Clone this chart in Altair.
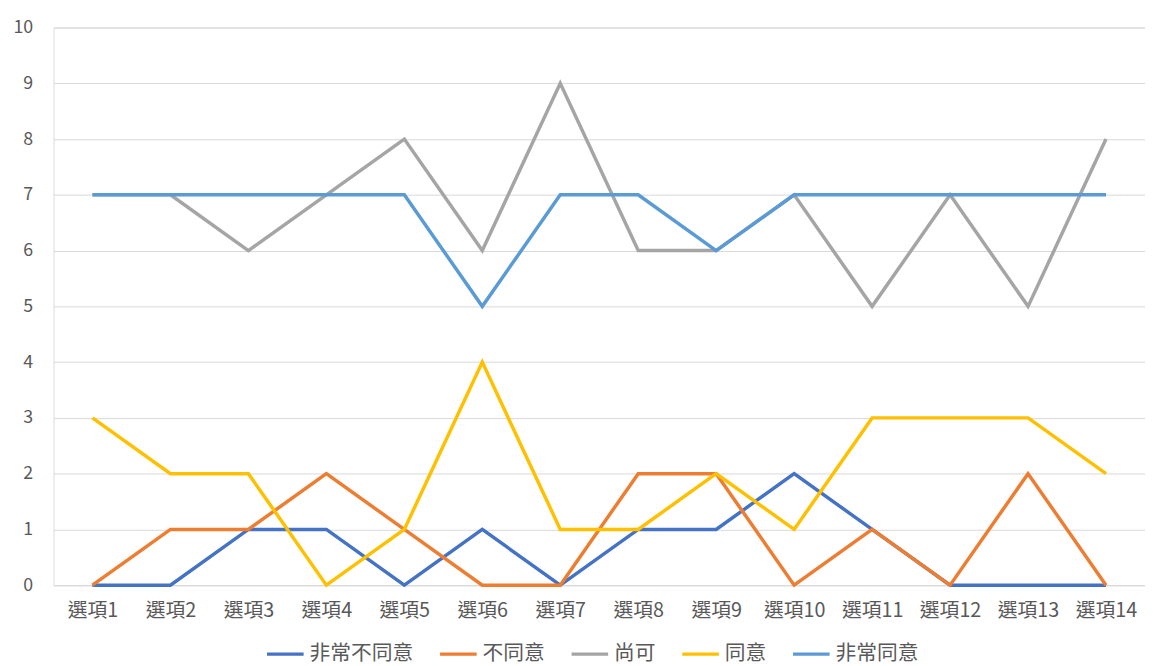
import altair as alt
import pandas as pd

categories = [f"選項{i}" for i in range(1, 15)]
series_names = ["非常不同意", "不同意", "尚可", "同意", "非常同意"]
colors = ["#4472C4", "#ED7D31", "#A5A5A5", "#FFC000", "#5B9BD5"]

s_strong_disagree = [0, 0, 1, 1, 0, 1, 0, 1, 1, 2, 1, 0, 0, 0]
s_disagree = [0, 1, 1, 2, 1, 0, 0, 2, 2, 0, 1, 0, 2, 0]
s_neutral = [7, 7, 6, 7, 8, 6, 9, 6, 6, 7, 5, 7, 5, 8]
s_agree = [3, 2, 2, 0, 1, 4, 1, 1, 2, 1, 3, 3, 3, 2]
s_strong_agree = [7, 7, 7, 7, 7, 5, 7, 7, 6, 7, 7, 7, 7, 7]

all_series = [s_strong_disagree, s_disagree, s_neutral, s_agree, s_strong_agree]
rows = []
for si, (name, vals) in enumerate(zip(series_names, all_series)):
    for c, v in zip(categories, vals):
        rows.append({"cat": c, "series": name, "value": v, "ord": si})
df = pd.DataFrame(rows)

font = "Noto Sans CJK TC"

chart = alt.Chart(df).mark_line(strokeWidth=3.5, strokeJoin="miter").encode(
    x=alt.X("cat:N", sort=categories, title=None,
            scale=alt.Scale(paddingInner=0, paddingOuter=0.5),
            axis=alt.Axis(labelAngle=0, ticks=False, domain=True, domainColor="#D9D9D9",
                          labelFontSize=20, labelColor="#595959", labelPadding=16,
                          labelFont=font, grid=False)),
    y=alt.Y("value:Q", title=None,
            scale=alt.Scale(domain=[0, 10], nice=False),
            axis=alt.Axis(values=list(range(0, 11)), ticks=False, domain=False,
                          labelFontSize=18, labelColor="#595959", labelPadding=21,
                          labelFont=font, gridColor="#D9D9D9", gridWidth=1)),
    color=alt.Color("series:N", sort=series_names,
                    scale=alt.Scale(domain=series_names, range=colors),
                    legend=alt.Legend(title=None, orient="none", direction="horizontal",
                                      legendX=214, legendY=613,
                                      symbolType="stroke", symbolSize=1369,
                                      symbolStrokeWidth=3.5, labelFontSize=21,
                                      labelColor="#595959", labelFont=font,
                                      columnPadding=20, labelOffset=4)),
    order=alt.Order("ord:Q"),
).properties(
    width=1104, height=564,
    autosize=alt.AutoSizeParams(type="none"),
    padding={"left": 46, "top": 16, "right": 0, "bottom": 80},
).configure_view(stroke=None).configure(background="white")

chart.save("out.html", embed_options={"renderer": "svg", "actions": False})
